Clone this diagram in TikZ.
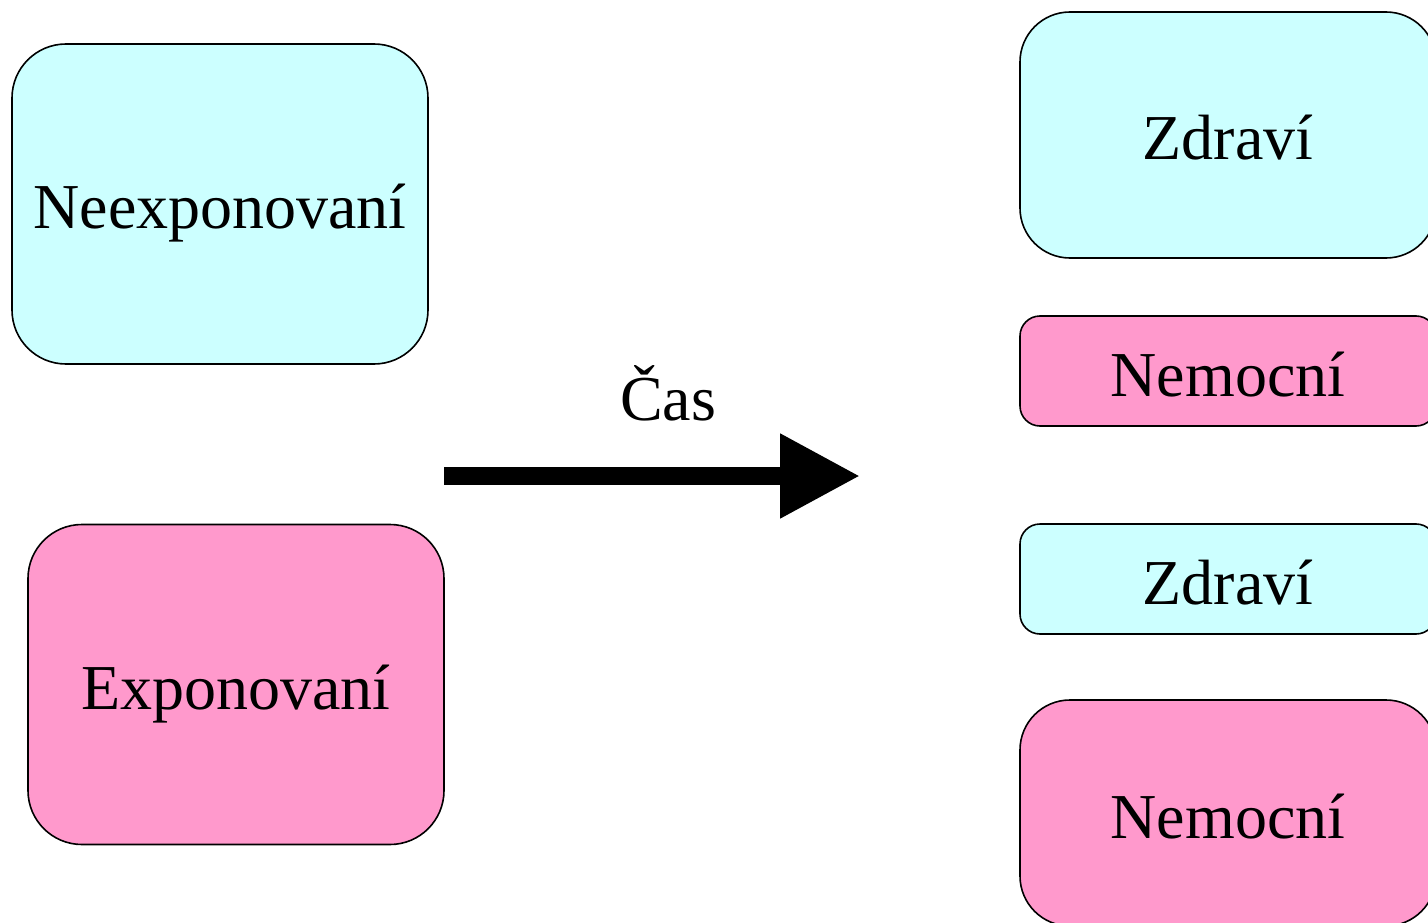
\documentclass[tikz,border=0pt]{standalone}
\usepackage{fontspec}
\setmainfont{Liberation Serif}
\usetikzlibrary{arrows.meta}
\definecolor{healthy}{HTML}{CCFFFF}
\definecolor{sick}{HTML}{FF99CC}
\tikzset{
  lbl/.style={font=\fontsize{64}{70}\selectfont, text height=50pt, text depth=0pt},
  grp/.style={lbl, draw=black, line width=1.6pt, inner sep=0pt,
    minimum width=416pt},
  bigbox/.style={grp, rounded corners=54pt, minimum height=320pt},
  tallbox/.style={grp, rounded corners=50pt, minimum height=246pt},
  slimbox/.style={grp, rounded corners=20pt, minimum height=110pt},
  timearrow/.style={line width=18pt, -{Triangle[length=80pt,width=80pt]}}
}
\begin{document}
\begin{tikzpicture}[x=1pt,y=-1pt]
  \useasboundingbox (0,0) rectangle (1428,923);
  \clip (0,0) rectangle (1428,923);
  % left column: groups at the start
  \node[bigbox, fill=healthy] (unexp) at (220,204) {Neexponovaní};
  \node[bigbox, fill=sick] (exp) at (236,684.5) {Exponovaní};
  % right column: outcomes
  \node[tallbox, fill=healthy] (h1) at (1228,135) {Zdraví};
  \node[slimbox, fill=sick] (s1) at (1228,371) {Nemocní};
  \node[slimbox, fill=healthy] (h2) at (1228,579) {Zdraví};
  \node[tallbox, minimum height=226pt, fill=sick] (s2) at (1228,813) {Nemocní};
  % passage of time
  \coordinate (t0) at (444,476);
  \coordinate (t1) at (860,476);
  \draw[timearrow] (t0) -- (t1);
  \node[lbl] (time) at (668,395) {Čas};
\end{tikzpicture}
\end{document}
